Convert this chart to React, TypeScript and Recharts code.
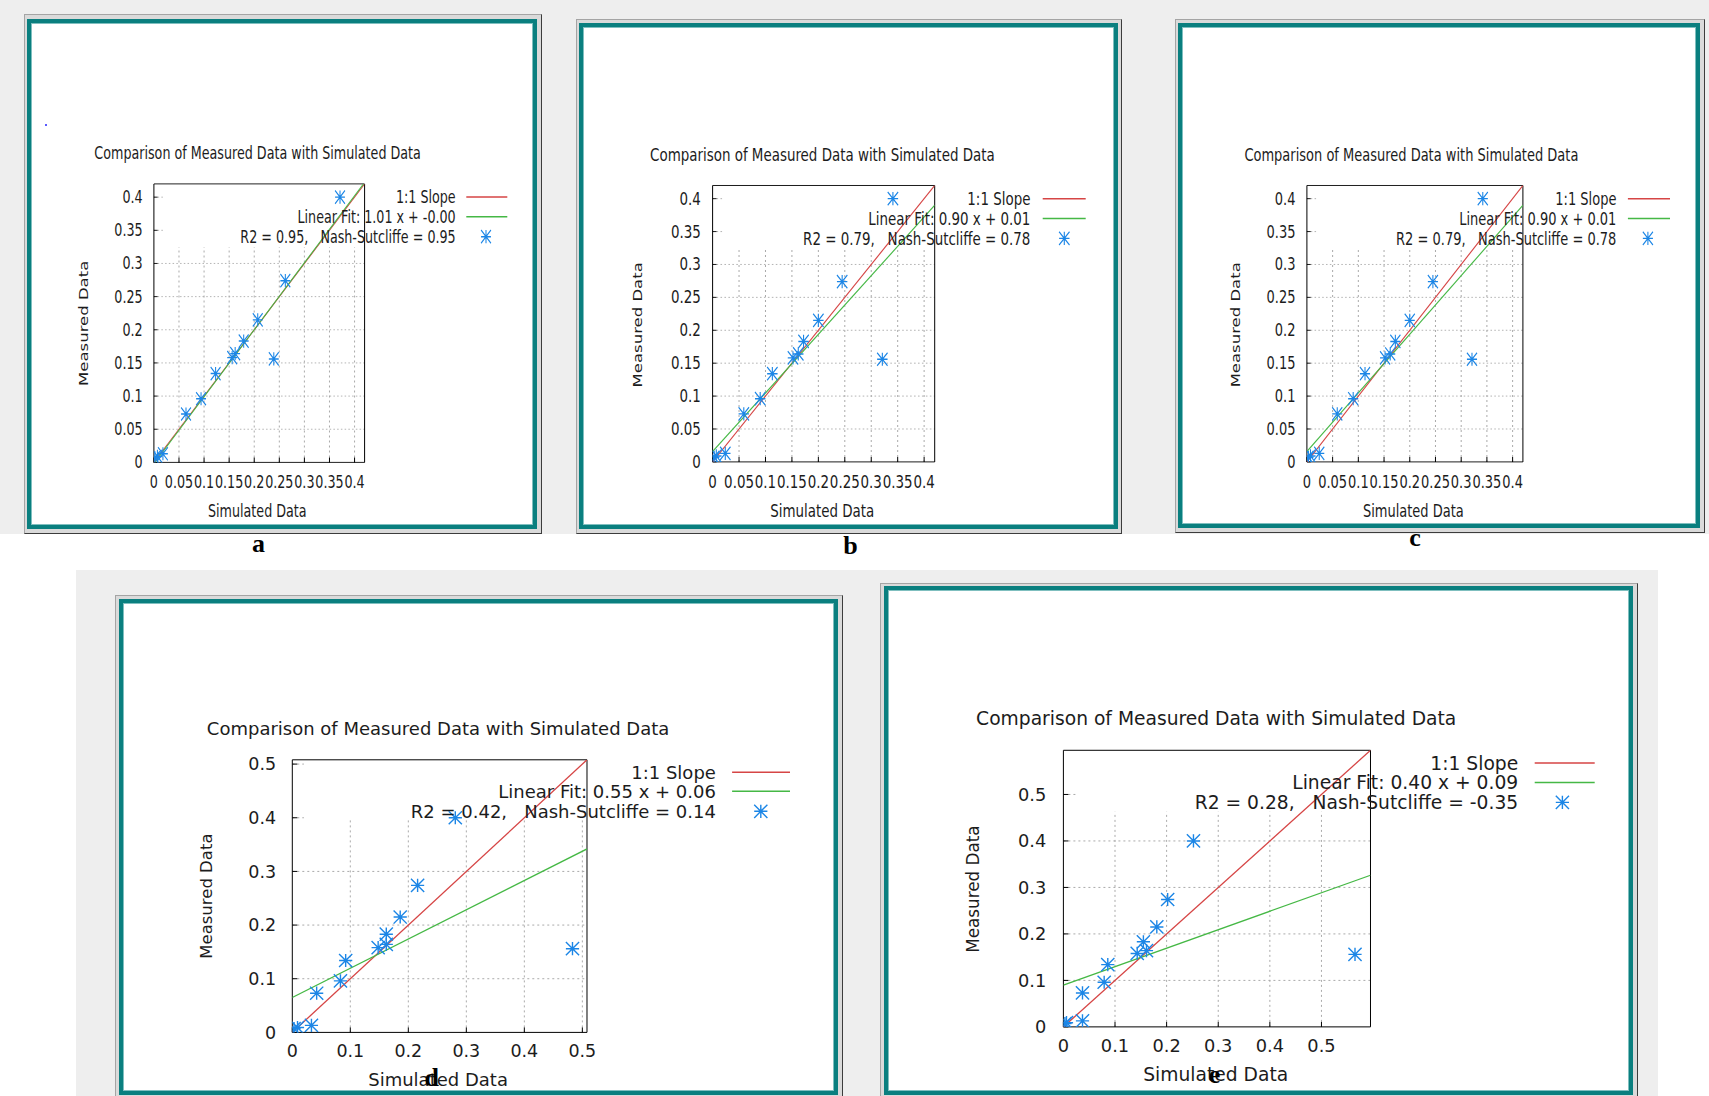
import React from 'react';
import { ScatterChart, Scatter, XAxis, YAxis, ReferenceLine } from 'recharts';

// ---------- data ----------
const measured = [0.4, 0.274, 0.215, 0.156, 0.183, 0.164, 0.158, 0.134, 0.096, 0.073, 0.013, 0.009, 0.007];
const simulatedA = [0.371, 0.262, 0.207, 0.239, 0.179, 0.162, 0.156, 0.123, 0.094, 0.064, 0.018, 0.007, 0.002];
const simulatedB = [0.341, 0.245, 0.2, 0.321, 0.172, 0.162, 0.152, 0.113, 0.09, 0.059, 0.024, 0.007, 0.003];
const simulatedC = [0.342, 0.245, 0.2, 0.321, 0.172, 0.162, 0.152, 0.113, 0.09, 0.059, 0.024, 0.007, 0.003];
const simulatedD = [0.281, 0.216, 0.186, 0.483, 0.162, 0.162, 0.148, 0.092, 0.083, 0.042, 0.033, 0.009, 0.003];
const simulatedE = [0.252, 0.202, 0.181, 0.565, 0.155, 0.161, 0.143, 0.086, 0.079, 0.037, 0.037, 0.006, 0.003];

const ticksSmall = [0, 0.05, 0.1, 0.15, 0.2, 0.25, 0.3, 0.35, 0.4];
const ticksLarge = [0, 0.1, 0.2, 0.3, 0.4, 0.5];

const axisMax = [0.42, 0.42, 0.42, 0.508, 0.595];
const fitSlope = [1.01, 0.891, 0.891, 0.545, 0.397];
const fitIntercept = [-0.002, 0.0157, 0.0157, 0.065, 0.09];
const fitLabels = [
  'Linear Fit: 1.01 x + -0.00',
  'Linear Fit: 0.90 x + 0.01',
  'Linear Fit: 0.90 x + 0.01',
  'Linear Fit: 0.55 x + 0.06',
  'Linear Fit: 0.40 x + 0.09',
];
const statLabels = [
  'R2 = 0.95,   Nash-Sutcliffe = 0.95',
  'R2 = 0.79,   Nash-Sutcliffe = 0.78',
  'R2 = 0.79,   Nash-Sutcliffe = 0.78',
  'R2 = 0.42,   Nash-Sutcliffe = 0.14',
  'R2 = 0.28,   Nash-Sutcliffe = -0.35',
];
const gridCut = [0.325, 0.325, 0.325, 0.397, 0.463];
const keyLeft = [0.02, 0.02, 0.02, 0.02, 0.025];
const panelLetters = ['a', 'b', 'c', 'd', 'e'];

const TITLE = 'Comparison of Measured Data with Simulated Data';
const XLABEL = 'Simulated Data';
const YLABEL = 'Measured Data';
const KEY1 = '1:1 Slope';

// ---------- styles ----------
const FONT = "'DejaVu Sans', 'Liberation Sans', sans-serif";
const SERIF = "'Liberation Serif', 'DejaVu Serif', serif";
const TXT = '#1c1c1c';
const RED = '#d64545';
const GREEN = '#45b845';
const BLUE = '#1c86e6';
const GRID = '#aaaaaa';
const TEAL = '#0a7f7f';

// ---------- layout (page pixels) ----------
type Layout = {
  sx: number;
  box: [number, number, number, number];
  plot: [number, number, number, number];
  fs: number; tfs: number; yfs: number;
  title: [number, number]; xlab: [number, number]; ylab: [number, number];
  keyRows: [number, number, number]; keyRight: number; keyLine: [number, number]; keyStar: number;
  xTickCenter: number; yTickGap: number;
  outer: [number, number, number, number]; teal: [number, number, number, number];
  letter: [number, number];
};

const layouts: Layout[] = [
  {
    sx: 0.748, box: [30.7, 22.7, 502, 502.6], plot: [153.6, 183.6, 364.3, 462.1],
    fs: 17, tfs: 17, yfs: 16.5,
    title: [257.3, 152.5], xlab: [257, 510.7], ylab: [83.2, 323],
    keyRows: [196.8, 216.4, 236.4], keyRight: 455.4, keyLine: [466, 507], keyStar: 485.7,
    xTickCenter: 20, yTickGap: 15,
    outer: [23.5, 14, 541.7, 533.7], teal: [26.7, 18.7, 536.7, 529.3], letter: [258.5, 545.5],
  },
  {
    sx: 0.79, box: [583.3, 27.2, 530.9, 498.1], plot: [712.9, 185.7, 935, 462.1],
    fs: 17, tfs: 17, yfs: 16.5,
    title: [822.7, 155.4], xlab: [822.5, 510.7], ylab: [637.9, 325],
    keyRows: [199, 218.6, 238.6], keyRight: 1030.7, keyLine: [1043, 1086], keyStar: 1064.6,
    xTickCenter: 20, yTickGap: 15,
    outer: [575.7, 18.6, 1121.8, 533.7], teal: [579.3, 23.2, 1118.2, 529.3], letter: [850.5, 545.5],
  },
  {
    sx: 0.765, box: [1181.5, 27.2, 514.5, 497.3], plot: [1306.4, 185.7, 1522.4, 462.1],
    fs: 17, tfs: 17, yfs: 16.5,
    title: [1410.9, 155.4], xlab: [1412.8, 510.7], ylab: [1234.6, 325],
    keyRows: [199, 218.6, 238.6], keyRight: 1615.9, keyLine: [1627.4, 1669.5], keyStar: 1647.4,
    xTickCenter: 20, yTickGap: 15,
    outer: [1174.7, 18.6, 1705, 533.3], teal: [1177.5, 23.2, 1700, 528.5], letter: [1415, 540],
  },
  {
    sx: 1, box: [123.4, 602.9, 710.9, 488.1], plot: [292.7, 759.7, 587.4, 1032.3],
    fs: 18, tfs: 17.5, yfs: 16.5,
    title: [438.5, 728.6], xlab: [438.5, 1079.7], ylab: [206, 896],
    keyRows: [772.2, 791.2, 811.2], keyRight: 716.3, keyLine: [732.5, 790.4], keyStar: 761.2,
    xTickCenter: 18.7, yTickGap: 16.2,
    outer: [115.3, 594.8, 843.5, 1102], teal: [119.4, 598.9, 838.3, 1095], letter: [431.7, 1077],
  },
  {
    sx: 1, box: [888.3, 590.3, 740.7, 500.7], plot: [1063.7, 750.6, 1370.8, 1027.2],
    fs: 18.7, tfs: 17.8, yfs: 16.8,
    title: [1216.5, 719], xlab: [1216, 1074.7], ylab: [973.3, 889.4],
    keyRows: [763.3, 782.7, 802.7], keyRight: 1518.5, keyLine: [1535, 1595], keyStar: 1562.7,
    xTickCenter: 18.7, yTickGap: 17.1,
    outer: [880, 582.8, 1638, 1102], teal: [884.3, 586.3, 1633, 1095], letter: [1214.5, 1077],
  },
];

const simulatedSets = [simulatedA, simulatedB, simulatedC, simulatedD, simulatedE];
const tickSets = [ticksSmall, ticksSmall, ticksSmall, ticksLarge, ticksLarge];

const starPath = (cx: number, cy: number, h: number) =>
  `M${cx - h},${cy}H${cx + h}M${cx},${cy - h}V${cy + h}M${cx - h},${cy - h}L${cx + h},${cy + h}M${cx - h},${cy + h}L${cx + h},${cy - h}`;

const STAR_H = 6.6;
const STAR_W = 1.4;

function StarShape(props: any) {
  const { cx, cy } = props;
  if (cx == null || cy == null || Number.isNaN(cx) || Number.isNaN(cy)) return <g />;
  return <path d={starPath(cx, cy, STAR_H)} stroke={BLUE} strokeWidth={STAR_W} fill="none" />;
}

const NoShape = () => <g />;

function Panel({ i }: { i: number }) {
  const c = layouts[i];
  const sim = simulatedSets[i];
  const ticks = tickSets[i];
  const max = axisMax[i];
  const slope = fitSlope[i];
  const icpt = fitIntercept[i];
  const cut = gridCut[i];
  const kLeft = keyLeft[i];

  const [L, T, W, H] = c.box;
  const Wp = W / c.sx;
  const px = (X: number) => (X - L) / c.sx;
  const py = (Y: number) => Y - T;
  const pl = px(c.plot[0]);
  const pt = py(c.plot[1]);
  const pr = px(c.plot[2]);
  const pb = py(c.plot[3]);
  const YW = 60, RW = 10, TH = 10, BH = 40, TS = 5;
  const margin = { left: pl - YW, right: Wp - pr - RW, top: pt - TH, bottom: H - pb - BH };

  const points = sim.map((x, k) => ({ x, y: measured[k] }));
  const oneToOne = [{ x: 0, y: 0 }, { x: max, y: max }];
  const x0 = Math.max(0, -icpt / slope);
  const x1 = Math.min(max, (max - icpt) / slope);
  const fitLine = [
    { x: x0, y: slope * x0 + icpt },
    { x: x1, y: slope * x1 + icpt },
  ];

  const vsw = 1 / c.sx;
  const inner = ticks.filter((t) => t > 0 && t < max);
  const xTickMargin = c.xTickCenter - 0.355 * c.tfs + TS;
  const yTickMargin = c.yTickGap + TS;

  const tickStyle = { fill: TXT, fontSize: c.tfs, fontFamily: FONT };
  const fmt = (v: number) => String(v);

  const o = c.outer;
  const t = c.teal;

  return (
    <>
      <div
        style={{
          position: 'absolute', left: o[0], top: o[1], width: o[2] - o[0], height: o[3] - o[1],
          boxSizing: 'border-box', borderTop: '1px solid #a4a4a4', borderLeft: '1px solid #a4a4a4',
          borderRight: '1px solid #3c3c3c', borderBottom: '1px solid #3c3c3c', background: '#dadada',
        }}
      />
      <div
        style={{
          position: 'absolute', left: t[0], top: t[1], width: t[2] - t[0], height: t[3] - t[1],
          boxSizing: 'border-box', border: `4px solid ${TEAL}`, background: '#ffffff',
          boxShadow: 'inset 0 0 0 1px #7fbfbf',
        }}
      />
      <div
        style={{
          position: 'absolute', left: L, top: T, width: Wp, height: H,
          transform: `scaleX(${c.sx})`, transformOrigin: '0 0',
        }}
      >
        <ScatterChart width={Wp} height={H} margin={margin}>
          <XAxis
            xAxisId={0} type="number" dataKey="x" domain={[0, max]} ticks={ticks} interval={0}
            allowDataOverflow tickSize={-TS} tickMargin={xTickMargin} height={BH}
            axisLine={{ stroke: '#000', strokeWidth: 1 }} tickLine={{ stroke: '#000', strokeWidth: vsw }}
            tick={tickStyle} tickFormatter={fmt}
          />
          <XAxis
            xAxisId="top" orientation="top" type="number" domain={[0, max]} ticks={ticks} interval={0}
            allowDataOverflow tickSize={-TS} height={TH} tick={false}
            axisLine={{ stroke: '#000', strokeWidth: 1 }} tickLine={{ stroke: '#000', strokeWidth: vsw }}
          />
          <YAxis
            yAxisId={0} type="number" dataKey="y" domain={[0, max]} ticks={ticks} interval={0}
            allowDataOverflow tickSize={-TS} tickMargin={yTickMargin} width={YW}
            axisLine={{ stroke: '#000', strokeWidth: vsw }} tickLine={{ stroke: '#000', strokeWidth: 1 }}
            tick={tickStyle} tickFormatter={fmt}
          />
          <YAxis
            yAxisId="right" orientation="right" type="number" domain={[0, max]} ticks={ticks} interval={0}
            allowDataOverflow tickSize={-TS} width={RW} tick={false}
            axisLine={{ stroke: '#000', strokeWidth: vsw }} tickLine={{ stroke: '#000', strokeWidth: 1 }}
          />
          {inner.map((v) => (
            <ReferenceLine
              key={`v${v}`} xAxisId={0} yAxisId={0} ifOverflow="visible"
              segment={[{ x: v, y: 0 }, { x: v, y: cut }]}
              stroke={GRID} strokeWidth={vsw} strokeDasharray="2 3"
            />
          ))}
          {inner.map((v) => (
            <ReferenceLine
              key={`h${v}`} xAxisId={0} yAxisId={0} ifOverflow="visible"
              segment={[{ x: 0, y: v }, { x: v <= cut ? max : kLeft, y: v }]}
              stroke={GRID} strokeWidth={1} strokeDasharray="2 3"
            />
          ))}
          <Scatter
            data={oneToOne} xAxisId={0} yAxisId={0} fill="none" stroke={RED}
            line={{ stroke: RED, strokeWidth: 1.3 }} shape={NoShape} isAnimationActive={false}
          />
          <Scatter
            data={fitLine} xAxisId={0} yAxisId={0} fill="none" stroke={GREEN}
            line={{ stroke: GREEN, strokeWidth: 1.3 }} shape={NoShape} isAnimationActive={false}
          />
          <Scatter
            data={points} xAxisId={0} yAxisId={0} fill={BLUE} shape={StarShape} isAnimationActive={false}
          />
        </ScatterChart>
        <svg
          width={Wp} height={H}
          style={{ position: 'absolute', left: 0, top: 0, pointerEvents: 'none', overflow: 'visible' }}
        >
          <text x={px(c.title[0])} y={py(c.title[1]) + 0.36 * c.fs} textAnchor="middle"
            fontSize={c.fs} fontFamily={FONT} fill={TXT}>{TITLE}</text>
          <text x={px(c.xlab[0])} y={py(c.xlab[1]) + 0.36 * c.fs} textAnchor="middle"
            fontSize={c.fs} fontFamily={FONT} fill={TXT}>{XLABEL}</text>
          <text transform={`translate(${px(c.ylab[0])},${py(c.ylab[1])}) rotate(-90)`} x={0} y={0.36 * c.yfs}
            textAnchor="middle" fontSize={c.yfs} fontFamily={FONT} fill={TXT}>{YLABEL}</text>
          <text x={px(c.keyRight)} y={py(c.keyRows[0]) + 0.36 * c.fs} textAnchor="end"
            fontSize={c.fs} fontFamily={FONT} fill={TXT} style={{ whiteSpace: 'pre' }}>{KEY1}</text>
          <text x={px(c.keyRight)} y={py(c.keyRows[1]) + 0.36 * c.fs} textAnchor="end"
            fontSize={c.fs} fontFamily={FONT} fill={TXT} style={{ whiteSpace: 'pre' }}>{fitLabels[i]}</text>
          <text x={px(c.keyRight)} y={py(c.keyRows[2]) + 0.36 * c.fs} textAnchor="end"
            fontSize={c.fs} fontFamily={FONT} fill={TXT} style={{ whiteSpace: 'pre' }}
            xmlSpace="preserve">{statLabels[i]}</text>
          <line x1={px(c.keyLine[0])} x2={px(c.keyLine[1])} y1={py(c.keyRows[0])} y2={py(c.keyRows[0])}
            stroke={RED} strokeWidth={1.5} />
          <line x1={px(c.keyLine[0])} x2={px(c.keyLine[1])} y1={py(c.keyRows[1])} y2={py(c.keyRows[1])}
            stroke={GREEN} strokeWidth={1.5} />
          <path d={starPath(px(c.keyStar), py(c.keyRows[2]), STAR_H)} stroke={BLUE} strokeWidth={STAR_W} fill="none" />
        </svg>
      </div>
    </>
  );
}

export default function App() {
  return (
    <div
      style={{
        position: 'absolute', left: 0, top: 0, width: 1709, height: 1096,
        background: '#ffffff', overflow: 'hidden', fontFamily: FONT,
      }}
    >
      <div style={{ position: 'absolute', left: 0, top: 0, width: 1709, height: 533.5, background: '#eeeeee' }} />
      <div style={{ position: 'absolute', left: 76, top: 570, width: 1582, height: 526, background: '#eeeeee' }} />
      {layouts.map((_, i) => (
        <Panel key={i} i={i} />
      ))}
      <svg width={1709} height={1096} style={{ position: 'absolute', left: 0, top: 0, pointerEvents: 'none' }}>
        <rect x={45} y={124} width={2} height={2} fill="#5a5aff" />
        {layouts.map((c, i) => {
          const tall = panelLetters[i] === 'b' || panelLetters[i] === 'd';
          return (
            <text key={i} x={c.letter[0]} y={c.letter[1] + (tall ? 8.8 : 6)} textAnchor="middle"
              fontSize={26} fontWeight="bold" fontFamily={SERIF} fill="#000">{panelLetters[i]}</text>
          );
        })}
      </svg>
    </div>
  );
}
